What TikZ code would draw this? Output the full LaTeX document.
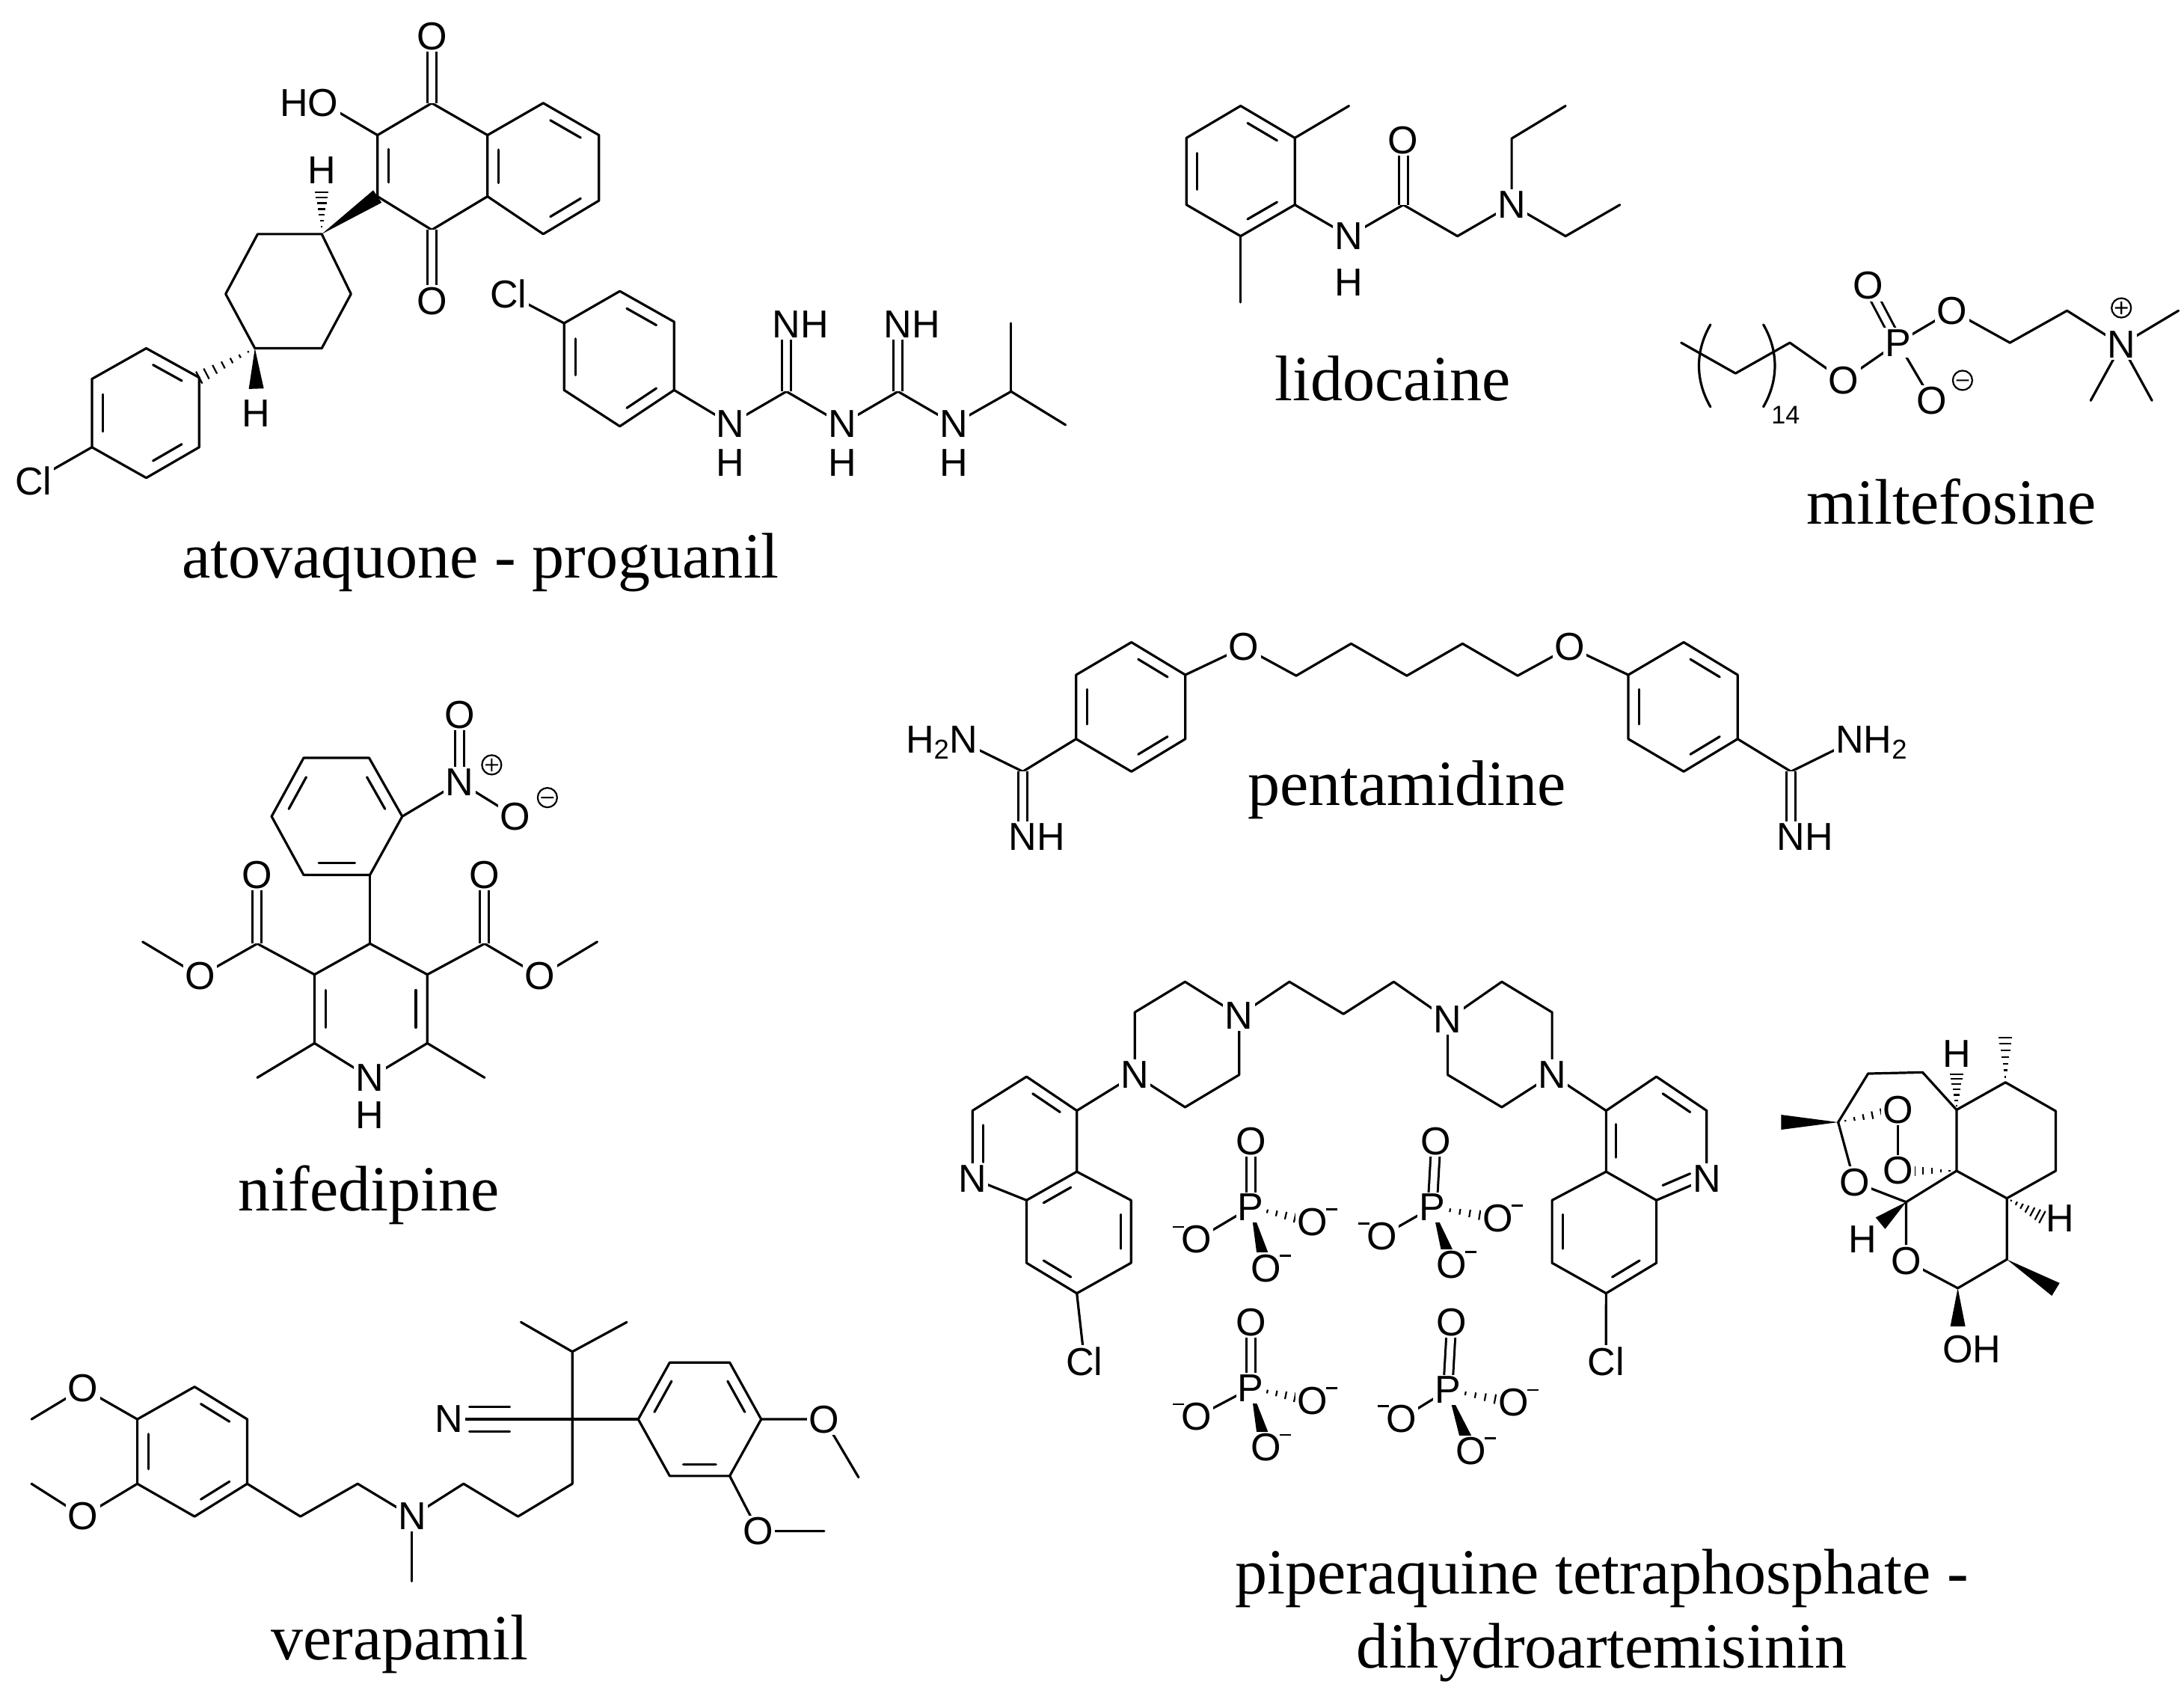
\documentclass[tikz,border=0pt]{standalone}
\usepackage{fontspec}
\setmainfont{Liberation Serif}
\setsansfont{Liberation Sans}
\usetikzlibrary{calc}
\newcommand\atomfont{\sffamily\fontsize{26}{26}\selectfont}
\newcommand\capfont{\rmfamily\fontsize{43}{48}\selectfont}
\tikzset{bond/.style={line width=1.6pt,line cap=round,line join=round},
 atom/.style={fill=white,inner sep=1.2pt,font=\atomfont},
 atomt/.style={inner sep=0pt,font=\atomfont},
 capt/.style={font=\capfont,inner sep=0pt}}
\newcommand\bd[2]{\draw[bond] (#1) -- (#2);}
\newcommand\dbi[3]{\draw[bond] ($(#1)!.16!(#2)!.2!(#3)$) -- ($(#2)!.16!(#1)!.2!(#3)$);}
\newcommand\dbc[2]{\draw[line width=1.5pt,double,double distance=4.5pt] (#1) -- (#2);}
\newcommand\wdg[2]{\fill (#1) -- ($(#2)!5pt!90:(#1)$) -- ($(#2)!5pt!-90:(#1)$) -- cycle;}
\newcommand\hsh[2]{\foreach \t in {0.12,0.27,0.42,0.57,0.72,0.87,1.0}{\pgfmathsetmacro\hw{\t*4.5}\draw[line width=1.1pt] ($(#1)!\t!(#2)!\hw pt!90:(#1)$) -- ($(#1)!\t!(#2)!\hw pt!-90:(#1)$);}}
\newcommand\lb[2]{\node[atom] at (#1) {#2};}
\newcommand\pchg[1]{\draw[line width=1.1pt] (#1) circle (6.5pt) ($(#1)+(-4.5,0)$) -- ($(#1)+(4.5,0)$) ($(#1)+(0,-4.5)$) -- ($(#1)+(0,4.5)$);}
\newcommand\mchg[1]{\draw[line width=1.1pt] (#1) circle (6.5pt) ($(#1)+(-4.5,0)$) -- ($(#1)+(4.5,0)$);}
\newcommand\supm[1]{\draw[line width=1.2pt] ($(#1)+(-4,0)$) -- ($(#1)+(4,0)$);}
\newcommand\phos[5]{% P, Otop, Oleft, Oright, Obottom
 \dbc{#1}{#2}\bd{#1}{#3}\hsh{#1}{#4}\wdg{#1}{#5}
 \lb{#1}{P}\lb{#2}{O}\lb{#3}{O}\lb{#4}{O}\lb{#5}{O}
 \supm{$(#3)+(-13,-9)$}\supm{$(#4)+(14,-9)$}\supm{$(#5)+(14,-9)$}}
\begin{document}
\begin{tikzpicture}[x=0.93pt,y=-0.93pt]
\useasboundingbox[fill=white] (0,0) rectangle (1568,1217);
% ---------- atovaquone
\draw[bond] (310,74)--(271,97)--(271,141)--(310,165)--(350,141)--(350,97)--cycle;
\draw[bond] (350,97)--(390,74)--(430,97)--(430,144)--(390,168)--(350,141);
\dbc{310,74}{310,26}\dbc{310,165}{310,216}
\dbi{271,97}{271,141}{310,119}\dbi{350,97}{350,141}{390,121}
\dbi{390,74}{430,97}{390,121}\dbi{430,144}{390,168}{390,121}
\bd{271,97}{232,74}
\wdg{231,168}{271,141}
\hsh{231,166}{231,138}
\draw[bond] (231,168)--(185,168)--(162,211)--(183,250)--(231,250)--(252,211)--cycle;
\wdg{183,250}{184,279}
\hsh{183,250}{143,271}
\draw[bond] (143,271)--(105,250)--(66,272)--(66,321)--(105,343)--(143,321)--cycle;
\dbi{105,250}{143,271}{105,296}\dbi{66,272}{66,321}{105,296}\dbi{105,343}{143,321}{105,296}
\bd{66,321}{24,345}
\lb{310,26}{O}\lb{310,216}{O}\node[atom] at (232,74) {\llap{H}O};
\node[atomt] at (231,122) {H};\node[atomt] at (184,297) {H};\lb{24,345}{Cl}
% ---------- proguanil
\draw[bond] (405,232)--(445,209)--(484,231)--(484,280)--(445,306)--(405,280)--cycle;
\dbi{445,209}{484,231}{445,257}\dbi{405,232}{405,280}{445,257}\dbi{445,306}{484,280}{445,257}
\bd{405,232}{365,211}
\draw[bond] (484,280)--(524.5,304.3)--(564.6,281)--(604.6,304.3)--(644.7,281)--(684.8,304.3)--(725.9,281)--(765,305);
\bd{725.9,281}{725.9,232}
\dbc{564.6,281}{564.6,232.7}\dbc{644.7,281}{644.7,232.7}
\lb{365,211}{Cl}
\lb{524.5,304.3}{N}\lb{604.6,304.3}{N}\lb{684.8,304.3}{N}
\node[atomt] at (524.5,332) {H};\node[atomt] at (604.6,332) {H};\node[atomt] at (684.8,332) {H};
\node[atom] at (564.6,232.7) {N\rlap{H}};\node[atom] at (644.7,232.7) {N\rlap{H}};
\node[capt] at (345,404) {atovaquone - proguanil};
% ---------- lidocaine
\draw[bond] (890.7,76)--(929.6,99)--(929.6,147)--(890.7,169.5)--(851.8,147)--(851.8,99)--cycle;
\dbi{890.7,76}{929.6,99}{890.7,123}\dbi{851.8,99}{851.8,147}{890.7,123}\dbi{890.7,169.5}{929.6,147}{890.7,123}
\bd{929.6,99}{968.5,76}\bd{890.7,169.5}{890.7,217}
\draw[bond] (929.6,147)--(968.5,169.5)--(1007.5,147)--(1046.4,169.5)--(1085.3,147)--(1085.3,99.4)--(1124,76);
\draw[bond] (1085.3,147)--(1124,169.5)--(1163,147);
\dbc{1007.5,147}{1007.5,100.5}
\lb{968.5,169.5}{N}\node[atomt] at (968.5,203) {H};\lb{1007.5,100.5}{O}\lb{1085.3,147}{N}
\node[capt] at (1000,272) {lidocaine};
% ---------- miltefosine
\draw[bond] (1228,233) .. controls (1217,252) and (1217,273) .. (1228,292);
\draw[bond] (1266,233) .. controls (1277,252) and (1277,273) .. (1266,292);
\node[inner sep=0pt,font=\sffamily\fontsize{17}{17}\selectfont] at (1282,298) {14};
\draw[bond] (1207,246)--(1246,268)--(1285,246)--(1323.6,273)--(1362.6,246)--(1401.5,223)--(1443,246)--(1484,223)--(1523,247.5)--(1564,223);
\bd{1362.6,246}{1387,287.5}
\dbc{1362.6,246}{1341,205}
\bd{1523,247.5}{1501,287.5}\bd{1523,247.5}{1545,287.5}
\lb{1323.6,273}{O}\lb{1362.6,246}{P}\lb{1341,205}{O}\lb{1401.5,223}{O}\lb{1387,287.5}{O}\lb{1523,247.5}{N}
\mchg{1409,273}\pchg{1523,221}
\node[capt] at (1401,360) {miltefosine};
% ---------- nifedipine
\draw[bond] (218,544)--(265,544)--(288.8,586)--(265.6,628)--(218,628)--(195,586)--cycle;
\dbi{265,544}{288.8,586}{242,586}\dbi{195,586}{218,544}{242,586}\dbi{218,628}{265.6,628}{242,586}
\bd{288.8,586}{330,561.4}\dbc{330,561.4}{330,513}\bd{330,561.4}{369.7,586}
\bd{265.6,628}{265.6,677.3}
\draw[bond] (265.6,677.3)--(225.8,699.5)--(225.8,748.8)--(265.6,773.5)--(306.8,748.8)--(306.8,699.5)--cycle;
\dbi{225.8,699.5}{225.8,748.8}{265.6,724}\dbi{306.8,699.5}{306.8,748.8}{265.6,724}
\bd{225.8,748.8}{184.7,773.5}\bd{306.8,748.8}{347.9,773.5}
\draw[bond] (225.8,699.5)--(184.7,677.3)--(143.6,700.7)--(102.4,676);
\draw[bond] (306.8,699.5)--(347.9,677.3)--(387.7,700.7)--(428.8,676);
\dbc{184.7,677.3}{184.7,628}\dbc{347.9,677.3}{347.9,628}
\lb{330,561.4}{N}\lb{330,513}{O}\lb{369.7,586}{O}\pchg{353,549}\mchg{393,572.5}
\lb{184.7,628}{O}\lb{143.6,700.7}{O}\lb{347.9,628}{O}\lb{387.7,700.7}{O}
\lb{265.6,773.5}{N}\node[atomt] at (265.6,800.6) {H};
\node[capt] at (265,858) {nifedipine};
% ---------- pentamidine
\draw[bond] (812.3,461)--(851,484.4)--(851,530.4)--(812.3,553.8)--(772.6,530.4)--(772.6,484.4)--cycle;
\dbi{772.6,484.4}{772.6,530.4}{812,507}\dbi{812.3,461}{851,484.4}{812,507}\dbi{812.3,553.8}{851,530.4}{812,507}
\draw[bond] (851,484.4)--(893,464.5)--(930.6,485)--(970,462)--(1010,485)--(1050,462)--(1089.6,485)--(1127,464.5)--(1169,484.4);
\draw[bond] (1169,484.4)--(1208.8,461)--(1247.5,484.4)--(1247.5,530.4)--(1208.8,553.8)--(1169,530.4)--cycle;
\dbi{1169,484.4}{1169,530.4}{1208,507}\dbi{1208.8,461}{1247.5,484.4}{1208,507}\dbi{1208.8,553.8}{1247.5,530.4}{1208,507}
\draw[bond] (772.6,530.4)--(734.3,553.8)--(692,533);
\dbc{734.3,553.8}{734.3,600.5}
\draw[bond] (1247.5,530.4)--(1285.8,553.8)--(1328,533);
\dbc{1285.8,553.8}{1285.8,600.5}
\lb{893,464.5}{O}\lb{1127,464.5}{O}
\node[atom] at (692,533) {\llap{H\textsubscript{2}}N};\node[atom] at (734.3,600.5) {N\rlap{H}};
\node[atom] at (1328,533) {N\rlap{H\textsubscript{2}}};\node[atom] at (1285.8,600.5) {N\rlap{H}};
\node[capt] at (1010,567) {pentamidine};
% ---------- verapamil
\draw[bond] (139.7,995.4)--(177.5,1018.7)--(177.5,1065)--(139.7,1088.5)--(98.6,1065)--(98.6,1018.7)--cycle;
\dbi{139.7,995.4}{177.5,1018.7}{138,1042}\dbi{98.6,1018.7}{98.6,1065}{138,1042}\dbi{139.7,1088.5}{177.5,1065}{138,1042}
\draw[bond] (98.6,1018.7)--(59.6,996.4)--(22.6,1018.7);
\draw[bond] (98.6,1065)--(59.6,1088.5)--(22.6,1065);
\draw[bond] (177.5,1065)--(215.7,1088.5)--(256.8,1065)--(295.8,1088.5)--(332.8,1065)--(371.9,1088.5)--(410.9,1065)--(410.9,1018.7)--(410.9,970.2)--(374,949);
\bd{410.9,970.2}{450,949}\bd{295.8,1088.5}{295.8,1135}
\bd{410.9,1018.7}{322.6,1018.7}
\draw[bond] (337,1010)--(366,1010) (337,1027.4)--(366,1027.4);
\bd{410.9,1018.7}{458.2,1018.7}
\draw[bond] (458.2,1018.7)--(480.8,978)--(523.9,978)--(546.5,1018.7)--(523.9,1059.4)--(480.8,1059.4)--cycle;
\dbi{458.2,1018.7}{480.8,978}{502,1018.7}\dbi{523.9,978}{546.5,1018.7}{502,1018.7}\dbi{480.8,1059.4}{523.9,1059.4}{502,1018.7}
\draw[bond] (546.5,1018.7)--(591.7,1018.7)--(616.4,1060.4);
\draw[bond] (523.9,1059.4)--(544.4,1099)--(591.7,1099);
\lb{59.6,996.4}{O}\lb{59.6,1088.5}{O}\lb{295.8,1088.5}{N}\lb{322.6,1018.7}{N}\lb{591.7,1018.7}{O}\lb{544.4,1099}{O}
\node[capt] at (287,1180) {verapamil};
% ---------- piperaquine
\draw[bond] (814.7,771.5)--(814.7,726.6)--(850.8,704.7)--(889.6,729)--(889.6,771.5)--(850.8,794.7)--cycle;
\draw[bond] (889.6,729)--(925.7,704.7)--(964.5,727.8)--(1000.6,704.7)--(1039.4,731.7);
\draw[bond] (1039.4,731.7)--(1078.2,704.7)--(1114.3,726.6)--(1114.3,771.5)--(1078.2,794.7)--(1039.4,771.5)--cycle;
% left quinoline
\bd{814.7,771.5}{773.1,797.2}
\draw[bond] (773.1,797.2)--(737,772.8)--(698.2,797.2)--(698.2,846)--(737,861.5)--(773.1,841)--cycle;
\draw[bond] (773.1,841)--(812,861.5)--(812,906.5)--(773.1,928.3)--(737,906.5)--(737,861.5);
\dbi{737,772.8}{773.1,797.2}{736,818}\dbi{698.2,797.2}{698.2,846}{736,818}\dbi{737,861.5}{773.1,841}{775,884}
\dbi{812,861.5}{812,906.5}{775,884}\dbi{773.1,928.3}{737,906.5}{775,884}
\bd{773.1,928.3}{778.6,977}
% right quinoline
\bd{1114.3,771.5}{1153.1,797.2}
\draw[bond] (1153.1,797.2)--(1189.2,772.8)--(1225.3,797.2)--(1225.3,846)--(1189.2,861.5)--(1153.1,841)--cycle;
\draw[bond] (1153.1,841)--(1114.3,861.5)--(1114.3,906.5)--(1153.1,928.3)--(1189.2,906.5)--(1189.2,861.5);
\dbi{1189.2,772.8}{1225.3,797.2}{1189,818}\dbi{1153.1,797.2}{1153.1,841}{1189,818}\dbi{1189.2,861.5}{1225.3,846}{1189,818}
\dbi{1114.3,861.5}{1114.3,906.5}{1152,884}\dbi{1153.1,928.3}{1189.2,906.5}{1152,884}
\bd{1153.1,928.3}{1153,977}
\lb{814.7,771.5}{N}\lb{889.6,729}{N}\lb{1039.4,731.7}{N}\lb{1114.3,771.5}{N}
\lb{698.2,846}{N}\lb{1225.3,846}{N}\lb{778.6,977}{Cl}\lb{1153,977}{Cl}
% phosphates
\phos{898,866.6}{898,819}{859,889.8}{942,877}{909,910.3}
\phos{1028.3,866.6}{1031,819}{992.2,887.2}{1075.5,874.3}{1042.2,907.7}
\phos{898,996.4}{898,948.9}{859,1017}{942,1005.4}{909,1038.8}
\phos{1039.4,997.7}{1042.2,948.9}{1006,1018.3}{1086.6,1006.7}{1056,1041.4}
% ---------- dihydroartemisinin
\wdg{1319.7,805.5}{1278.7,805.5}
\draw[bond] (1319.7,805.5)--(1341.2,770.6)--(1380.3,769.7)--(1404.7,796.6);
\hsh{1404.7,796.6}{1404.7,771}
\draw[bond] (1404.7,796.6)--(1439.8,776.9)--(1475.9,797.5)--(1475.9,840.4)--(1440.8,860.1)--(1404.7,840.4)--cycle;
\hsh{1439.8,776.9}{1439.8,744.7}
\hsh{1440.8,860.1}{1466.2,873.6}
\hsh{1319.7,805.5}{1362.7,796.6}
\bd{1362.7,796.6}{1362.7,840.4}
\hsh{1404.7,840.4}{1362.7,840.4}
\draw[bond] (1319.7,805.5)--(1331.4,848.5)--(1368.5,862.8)--(1404.7,840.4);
\wdg{1368.5,862.8}{1350,878}
\draw[bond] (1368.5,862.8)--(1368.5,904.9)--(1405.6,924.6)--(1440.8,904)--(1440.8,860.1);
\wdg{1405.6,924.6}{1405.6,952}
\wdg{1440.8,904}{1475.9,925.5}
\lb{1362.7,796.6}{O}\lb{1362.7,840.4}{O}\lb{1331.4,848.5}{O}\lb{1368.5,904.9}{O}
\node[atomt] at (1404.7,756.3) {H};\node[atomt] at (1479,874.5) {H};\node[atomt] at (1337.3,889.7) {H};
\node[atom] at (1405.6,968.4) {O\rlap{H}};
\node[capt] at (1150,1133) {piperaquine tetraphosphate -};
\node[capt] at (1150,1186) {dihydroartemisinin};
\end{tikzpicture}
\end{document}
